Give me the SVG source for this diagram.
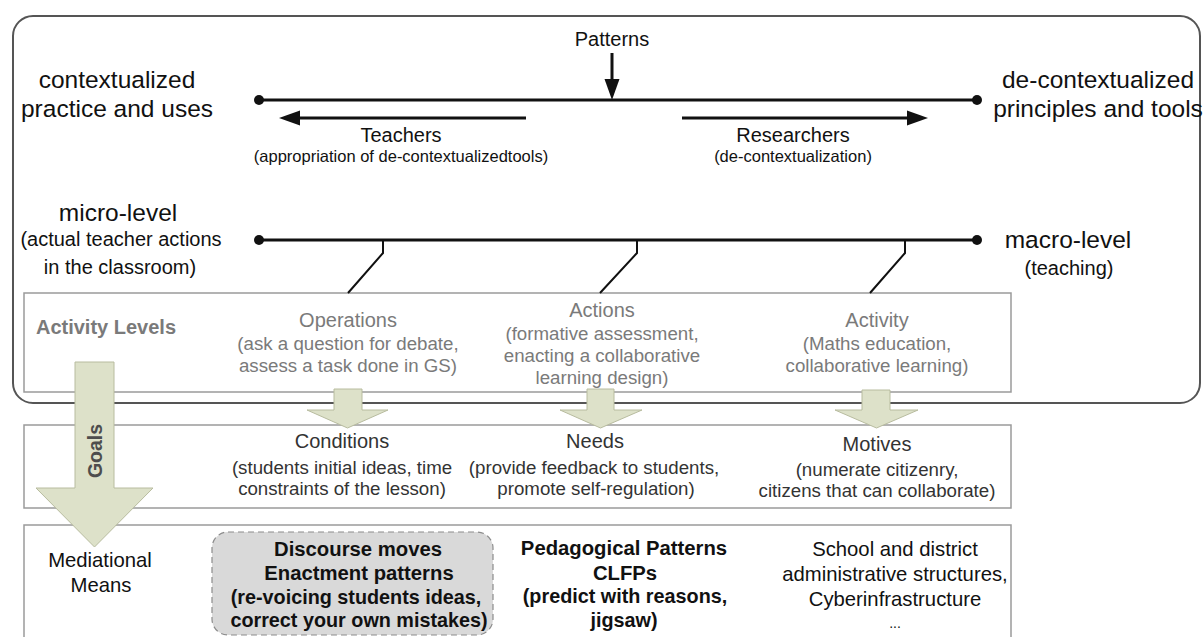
<svg xmlns="http://www.w3.org/2000/svg" width="1203" height="637" viewBox="0 0 1203 637">
<defs>
<style>
text{font-family:"Liberation Sans",Arial,Helvetica,sans-serif;text-anchor:middle;fill:#111}
.big{font-size:24.5px}
.mid{font-size:20px}
.sub{font-size:16.5px}
.gt{font-size:20px;fill:#7a7a7a}
.gs{font-size:18.7px;fill:#7a7a7a}
.ct{font-size:20px;fill:#333}
.cs{font-size:18.7px;fill:#333}
.bt{font-size:20.3px}
.b{font-weight:bold}
.box{fill:none;stroke:#9a9a9a;stroke-width:1.5}
.ln{stroke:#111;stroke-width:3;fill:none}
.cn{stroke:#111;stroke-width:2;fill:none}
.dot{fill:#111}
.blk{fill:#dde1c9;stroke:#b8bc9f;stroke-width:1}
</style>
<marker id="ah" markerUnits="userSpaceOnUse" markerWidth="22" markerHeight="16" refX="11" refY="8" orient="auto">
<path d="M0,0.5 L21,8 L0,15.5 z" fill="#111"/>
</marker>
</defs>
<rect width="1203" height="637" fill="#fff"/>

<g id="frame">
<rect x="13" y="16" width="1187" height="387" rx="20" ry="20" fill="none" stroke="#555" stroke-width="2"/>
</g>

<g id="boxes">
<rect id="activity-levels-box" class="box" x="24" y="293" width="987" height="99"/>
<rect id="conditions-box" class="box" x="24" y="425" width="987" height="83"/>
<rect id="mediational-box" class="box" x="24" y="525" width="987" height="140"/>
</g>

<g id="connectors">
<line class="ln" x1="259" y1="100" x2="977" y2="100"/>
<circle class="dot" cx="259" cy="100" r="5"/>
<circle class="dot" cx="977" cy="100" r="5"/>
<line class="ln" x1="612" y1="53" x2="612" y2="90" marker-end="url(#ah)"/>
<line class="ln" x1="526" y1="118" x2="289" y2="118" marker-end="url(#ah)"/>
<line class="ln" x1="682" y1="118" x2="918" y2="118" marker-end="url(#ah)"/>
<line class="ln" x1="259" y1="240" x2="977" y2="240"/>
<circle class="dot" cx="259" cy="240" r="5"/>
<circle class="dot" cx="977" cy="240" r="5"/>
<polyline class="cn" points="383,240 383,253 348,293"/>
<polyline class="cn" points="637,240 637,253 600,293"/>
<polyline class="cn" points="905,240 905,253 870,293"/>
</g>

<g id="patterns"><text class="mid" x="612" y="46">Patterns</text></g>
<g id="contextualized">
<text class="big" x="117" y="88">contextualized</text>
<text class="big" x="117" y="117">practice and uses</text>
</g>
<g id="de-contextualized">
<text class="big" x="1098" y="88">de-contextualized</text>
<text class="big" x="1098" y="117">principles and tools</text>
</g>
<g id="teachers">
<text class="mid" x="401" y="142">Teachers</text>
<text class="sub" x="401" y="162">(appropriation of de-contextualizedtools)</text>
</g>
<g id="researchers">
<text class="mid" x="793" y="142">Researchers</text>
<text class="sub" x="793" y="162">(de-contextualization)</text>
</g>
<g id="micro-level">
<text class="big" x="118" y="221">micro-level</text>
<text class="mid" x="121" y="246">(actual teacher actions</text>
<text class="mid" x="120" y="274">in the classroom)</text>
</g>
<g id="macro-level">
<text class="big" x="1068" y="248">macro-level</text>
<text class="mid" x="1069" y="275">(teaching)</text>
</g>

<g id="activity-levels">
<text class="gt b" x="106" y="334">Activity Levels</text>
</g>
<g id="operations">
<text class="gt" x="348" y="327">Operations</text>
<text class="gs" x="348" y="350">(ask a question for debate,</text>
<text class="gs" x="348" y="372">assess a task done in GS)</text>
</g>
<g id="actions">
<text class="gt" x="602" y="317">Actions</text>
<text class="gs" x="602" y="340">(formative assessment,</text>
<text class="gs" x="602" y="362">enacting a collaborative</text>
<text class="gs" x="602" y="384">learning design)</text>
</g>
<g id="activity">
<text class="gt" x="877" y="327">Activity</text>
<text class="gs" x="877" y="350">(Maths education,</text>
<text class="gs" x="877" y="372">collaborative learning)</text>
</g>

<g id="conditions">
<text class="ct" x="342" y="448">Conditions</text>
<text class="cs" x="342" y="474">(students initial ideas, time</text>
<text class="cs" x="342" y="495">constraints of the lesson)</text>
</g>
<g id="needs">
<text class="ct" x="595" y="448">Needs</text>
<text class="cs" x="594" y="474">(provide feedback to students,</text>
<text class="cs" x="596" y="495">promote self-regulation)</text>
</g>
<g id="motives">
<text class="ct" x="877" y="451">Motives</text>
<text class="cs" x="877" y="476">(numerate citizenry,</text>
<text class="cs" x="877" y="497">citizens that can collaborate)</text>
</g>

<g id="block-arrows">
<polygon id="arrow-conditions" class="blk" points="334,389 362,389 362,410 388,410 347.5,428 307,410 334,410"/>
<polygon id="arrow-needs" class="blk" points="587,389 614,389 614,410 642,410 600.5,428 560,410 587,410"/>
<polygon id="arrow-motives" class="blk" points="862,390 890,390 890,410 918,410 876.5,428 835,410 862,410"/>
</g>
<g id="goals">
<polygon class="blk" points="75,362 114,362 114,488 153,488 94.5,547 36,488 75,488"/>
<text class="b" transform="translate(102,451) rotate(-90)" style="font-size:19.5px;fill:#4d4d4d">Goals</text>
</g>

<g id="mediational-means">
<text class="bt" x="100" y="567">Mediational</text>
<text class="bt" x="101" y="592">Means</text>
</g>
<g id="discourse-moves">
<rect x="212" y="532" width="281" height="103" rx="16" ry="16" fill="#d9d9d9" stroke="#8c8c8c" stroke-width="1.2" stroke-dasharray="6,4"/>
<text class="bt b" x="358" y="556">Discourse moves</text>
<text class="bt b" x="359" y="580">Enactment patterns</text>
<text class="b" style="font-size:19.8px" x="356" y="604">(re-voicing students ideas,</text>
<text class="b" style="font-size:19.8px" x="359" y="627">correct your own mistakes)</text>
</g>
<g id="pedagogical-patterns">
<text class="bt b" x="624" y="555">Pedagogical Patterns</text>
<text class="bt b" x="625" y="580">CLFPs</text>
<text class="b" style="font-size:19.8px" x="625" y="603">(predict with reasons,</text>
<text class="b" style="font-size:19.8px" x="624" y="627">jigsaw)</text>
</g>
<g id="school">
<text class="bt" x="895" y="556">School and district</text>
<text class="bt" x="895" y="581">administrative structures,</text>
<text class="bt" x="895" y="606">Cyberinfrastructure</text>
<text style="font-size:14px" x="895" y="628">...</text>
</g>
</svg>
